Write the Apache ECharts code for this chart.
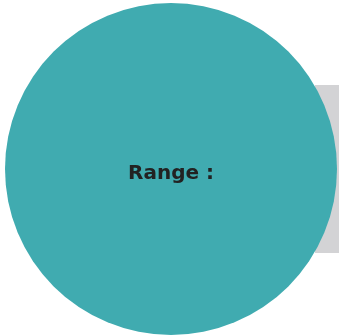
<!DOCTYPE html>
<html>
<head>
<meta charset="utf-8">
<script src="https://cdn.jsdelivr.net/npm/echarts@6/dist/echarts.min.js"></script>
<style>
  html, body { margin: 0; padding: 0; background: #fff; }
  #chart { width: 339px; height: 335px; }
</style>
</head>
<body>
<div id="chart"></div>
<script>
// single slice pie, label in the middle
var categories = ['Range'];
var values = [1];
var colorPalette = ['#40abb0'];

var chart = echarts.init(document.getElementById('chart'));

var pieData = categories.map(function (name, i) {
  return { name: name, value: values[i] };
});

chart.setOption({
  animation: false,
  color: colorPalette,
  graphic: [
    {
      // grey panel peeking out behind the circle
      type: 'rect',
      z: -1,
      shape: { x: 315, y: 85, width: 24, height: 168 },
      style: { fill: '#d3d3d5' }
    }
  ],
  series: [
    {
      type: 'pie',
      center: [171, 169],
      radius: [0, 166],
      silent: true,
      label: {
        show: true,
        position: 'center',
        formatter: '{b} :',
        fontFamily: 'DejaVu Sans',
        fontWeight: 'bold',
        fontSize: 20,
        color: '#222222',
        offset: [0, 5]
      },
      labelLine: { show: false },
      data: pieData
    }
  ]
});
</script>
</body>
</html>
